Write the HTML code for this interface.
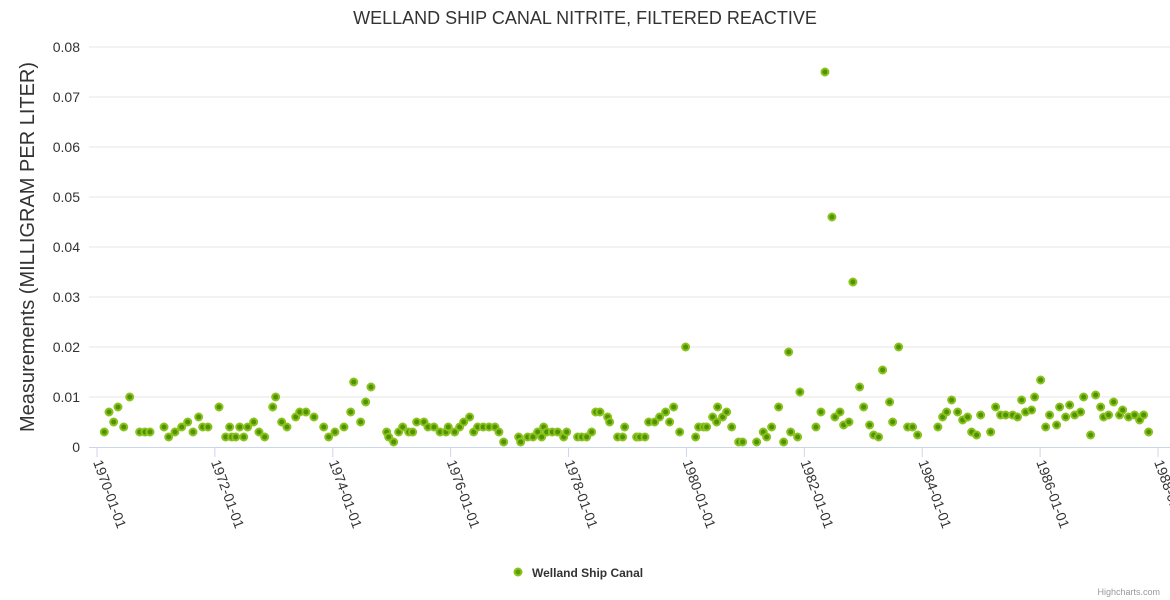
<!DOCTYPE html>
<html><head><meta charset="utf-8"><style>
html,body{margin:0;padding:0;background:#fff;}
svg{display:block;font-family:"Liberation Sans",sans-serif;}
</style></head><body>
<svg id="chart" width="1170" height="600" viewBox="0 0 1170 600">
<rect width="1170" height="600" fill="#fff"/>
<text x="585" y="24" text-anchor="middle" font-size="18" fill="#333">WELLAND SHIP CANAL NITRITE, FILTERED REACTIVE</text>
<g id="grid"></g><g id="xaxis"></g><g id="yaxis"></g><g id="points"></g>
<text transform="translate(34,247) rotate(-90)" text-anchor="middle" font-size="20" fill="#333">Measurements (MILLIGRAM PER LITER)</text>
<g>
<circle cx="518" cy="572" r="3.5" fill="#5a9e00" stroke="#8bc21f" stroke-width="2"/>
<text x="532" y="577" font-size="12" font-weight="bold" fill="#333">Welland Ship Canal</text>
</g>
<text x="1160" y="595" text-anchor="end" font-size="9" fill="#999">Highcharts.com</text>
</svg>
<script>
const yearOffsets=[0.124,0.204,0.283,0.356,0.453,0.555,0.724,0.814,0.899,1.137,1.216,1.323,1.437,1.539,1.629,1.725,1.793,1.883,2.070,2.183,2.251,2.285,2.353,2.421,2.489,2.556,2.658,2.748,2.845,2.981,3.031,3.133,3.223,3.371,3.439,3.545,3.681,3.846,3.930,4.037,4.190,4.304,4.355,4.473,4.558,4.648,4.914,4.948,5.033,5.118,5.186,5.288,5.355,5.423,5.547,5.615,5.717,5.819,5.920,5.959,6.068,6.153,6.221,6.322,6.390,6.458,6.553,6.650,6.752,6.819,6.899,7.154,7.188,7.306,7.396,7.476,7.544,7.578,7.629,7.724,7.815,7.917,7.968,8.154,8.222,8.307,8.392,8.460,8.533,8.663,8.697,8.833,8.918,8.952,9.155,9.206,9.296,9.359,9.461,9.545,9.647,9.715,9.783,9.885,9.986,10.156,10.207,10.292,10.343,10.445,10.512,10.529,10.614,10.682,10.767,10.886,10.953,11.191,11.303,11.361,11.445,11.564,11.649,11.734,11.768,11.886,11.925,12.197,12.282,12.350,12.468,12.519,12.604,12.667,12.757,12.824,12.938,13.006,13.108,13.176,13.260,13.328,13.447,13.498,13.600,13.753,13.837,13.922,14.266,14.346,14.414,14.499,14.601,14.686,14.770,14.838,14.923,14.991,15.161,15.245,15.330,15.415,15.534,15.618,15.686,15.754,15.856,15.907,16.009,16.094,16.161,16.280,16.331,16.433,16.501,16.586,16.687,16.738,16.857,16.942,17.027,17.077,17.162,17.247,17.349,17.400,17.501,17.603,17.688,17.756,17.841];
const values=[0.003,0.007,0.005,0.008,0.004,0.010,0.003,0.003,0.003,0.004,0.002,0.003,0.004,0.005,0.003,0.006,0.004,0.004,0.008,0.002,0.004,0.002,0.002,0.004,0.002,0.004,0.005,0.003,0.002,0.008,0.010,0.005,0.004,0.006,0.007,0.007,0.006,0.004,0.002,0.003,0.004,0.007,0.013,0.005,0.009,0.012,0.003,0.002,0.001,0.003,0.004,0.003,0.003,0.005,0.005,0.004,0.004,0.003,0.003,0.004,0.003,0.004,0.005,0.006,0.003,0.004,0.004,0.004,0.004,0.003,0.001,0.002,0.001,0.002,0.002,0.003,0.002,0.004,0.003,0.003,0.003,0.002,0.003,0.002,0.002,0.002,0.003,0.007,0.007,0.006,0.005,0.002,0.002,0.004,0.002,0.002,0.002,0.005,0.005,0.006,0.007,0.005,0.008,0.003,0.020,0.002,0.004,0.004,0.004,0.006,0.005,0.008,0.006,0.007,0.004,0.001,0.001,0.001,0.003,0.002,0.004,0.008,0.001,0.019,0.003,0.002,0.011,0.004,0.007,0.075,0.046,0.006,0.007,0.0044,0.005,0.033,0.012,0.008,0.0044,0.0024,0.002,0.0154,0.009,0.005,0.020,0.004,0.004,0.0024,0.004,0.006,0.007,0.0094,0.007,0.0054,0.006,0.003,0.0024,0.0064,0.003,0.008,0.0064,0.0064,0.0064,0.006,0.0094,0.007,0.0074,0.010,0.0134,0.004,0.0064,0.0044,0.008,0.006,0.0084,0.0064,0.007,0.010,0.0024,0.0104,0.008,0.006,0.0064,0.009,0.0064,0.0074,0.006,0.0064,0.0054,0.0064,0.003];
const yTicks=[0,0.01,0.02,0.03,0.04,0.05,0.06,0.07,0.08];
const yTickLabels=["0","0.01","0.02","0.03","0.04","0.05","0.06","0.07","0.08"];
const xTicks=[0,2,4,6,8,10,12,14,16,18];
const xTickLabels=["1970-01-01","1972-01-01","1974-01-01","1976-01-01","1978-01-01","1980-01-01","1982-01-01","1984-01-01","1986-01-01","1988-01-01"];

const NS="http://www.w3.org/2000/svg";
const X0=97,X1=1158,Y0=447,Y1=47;
const xs=t=>X0+(t/18)*(X1-X0);
const ys=v=>Y0-(v/0.08)*(Y0-Y1);
function mk(tag,attrs,parent){const e=document.createElementNS(NS,tag);for(const k in attrs)e.setAttribute(k,attrs[k]);parent.appendChild(e);return e;}
const grid=document.getElementById('grid'),xa=document.getElementById('xaxis'),ya=document.getElementById('yaxis'),pts=document.getElementById('points');
yTicks.forEach((v,i)=>{
  if(i>0){const l=mk('line',{x1:X0-8,x2:X1+12,y1:ys(v),y2:ys(v),stroke:'#e6e6e6','stroke-width':1},grid);
  
  }
  const t=mk('text',{x:80,y:ys(v)+5,'text-anchor':'end','font-size':14,fill:'#333'},ya);
  t.textContent=yTickLabels[i];
  
  
});
const ax=mk('line',{x1:X0-8,x2:X1+12,y1:Y0+0.5,y2:Y0+0.5,stroke:'#ccd6eb','stroke-width':1},xa);


xTicks.forEach((t,i)=>{
  const x=xs(t);
  const tk=mk('line',{x1:x,x2:x,y1:Y0,y2:Y0+10,stroke:'#ccd6eb','stroke-width':1},xa);
  
  
  const tx=mk('text',{x:x-4,y:Y0+15,'font-size':14,fill:'#333',transform:`rotate(70 ${x-4} ${Y0+15})`},xa);
  tx.textContent=xTickLabels[i];
  
  
});
yearOffsets.forEach((t,i)=>{
  const c=mk('circle',{cx:xs(t),cy:ys(values[i]),r:3.5,fill:'#4f9400',stroke:'#8bc21f','stroke-width':2},pts);
  
  
});
</script>
</body></html>
